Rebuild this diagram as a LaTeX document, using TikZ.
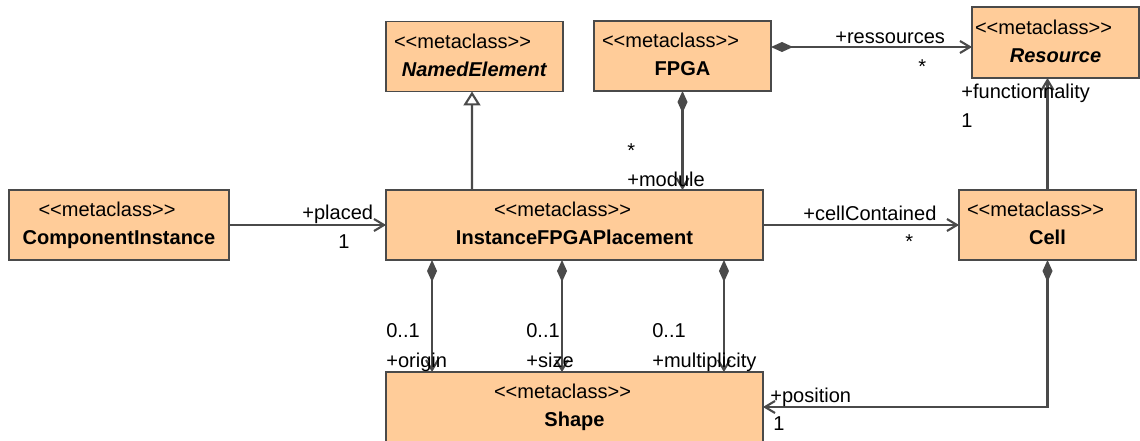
\documentclass[tikz,border=0pt]{standalone}
\usepackage{fontspec}
\newfontfamily\umlfont{Liberation Sans}
\usetikzlibrary{arrows.meta}

\definecolor{umlfill}{HTML}{FFCC99}
\definecolor{umlline}{HTML}{4A4A4A}

% two-line class label: stereotype over class name
\newcommand{\metacls}[1]{\begin{tabular}{@{}c@{}}<<metaclass>>\kern0.48cm\\#1\end{tabular}}

\tikzset{
  cls/.style={draw=umlline,fill=umlfill,line width=1.1pt,inner sep=0pt,outer sep=0pt,minimum height=1.4cm},
  role/.style={anchor=base west,inner sep=0pt},
  comp/.style={draw=umlline,line width=1.2pt,{Diamond[length=0.44cm,width=0.2cm]}-{Straight Barb[length=0.2cm,width=0.24cm]}},
  assoc/.style={draw=umlline,line width=1.2pt,-{Straight Barb[length=0.2cm,width=0.24cm]}},
  inherit/.style={draw=umlline,line width=1.2pt,-{Triangle[length=0.28cm,width=0.34cm,fill=white]}}
}

\begin{document}
\begin{tikzpicture}[x=0.02cm,y=-0.02cm,font=\umlfont\fontsize{11.4}{15.9}\selectfont]
  \useasboundingbox (0,0) rectangle (1140,440);

  % classes
  \node[cls,minimum width=3.54cm] (named) at (474.5,56.5) {\metacls{\textbf{\textit{NamedElement}}}};
  \node[cls,minimum width=3.54cm] (fpga) at (682.5,56) {\metacls{\textbf{FPGA}}};
  \node[cls,minimum width=3.34cm,minimum height=1.42cm] (res) at (1055.5,42.5) {\metacls{\textbf{\textit{Resource}}}};
  \node[cls,minimum width=4.4cm] (cmp) at (119,225) {\metacls{\textbf{ComponentInstance}}};
  \node[cls,minimum width=7.54cm] (ifp) at (574.5,225) {\metacls{\textbf{InstanceFPGAPlacement}}};
  \node[cls,minimum width=3.54cm] (cell) at (1047.5,225) {\metacls{\textbf{Cell}}};
  \node[cls,minimum width=7.54cm] (shp) at (574.5,407) {\metacls{\textbf{Shape}}};

  % relations
  \draw[inherit] ([xshift=1.72cm]ifp.north west) -- ([xshift=1.72cm]named.south west);
  \draw[comp] (fpga.south) -- (fpga.south |- ifp.north);
  \draw[comp] ([yshift=0.18cm]fpga.east) -- ([yshift=0.18cm]fpga.east -| res.west);
  \draw[assoc] (cell.north) -- (cell.north |- res.south);
  \draw[assoc] (cmp.east) -- (ifp.west);
  \draw[assoc] (ifp.east) -- (cell.west);
  \draw[comp] ([xshift=0.92cm]ifp.south west) -- ([xshift=0.92cm]shp.north west);
  \draw[comp] ([xshift=3.52cm]ifp.south west) -- ([xshift=3.52cm]shp.north west);
  \draw[comp] ([xshift=6.76cm]ifp.south west) -- ([xshift=6.76cm]shp.north west);
  \draw[comp] (cell.south) |- (shp.east);

  % role names and multiplicities
  \node[role] (r-res) at (835,43) {+ressources};
  \node[role] (m-res) at (918,73) {*};
  \node[role] (r-fun) at (961,98) {+functionnality};
  \node[role] (m-fun) at (961,127) {1};
  \node[role] (m-mod) at (627,157) {*};
  \node[role] (r-mod) at (627,186) {+module};
  \node[role] (r-pla) at (302,219) {+placed};
  \node[role] (m-pla) at (338,248) {1};
  \node[role] (r-cel) at (803,220) {+cellContained};
  \node[role] (m-cel) at (905,248) {*};
  \node[role] (m-ori) at (386,337) {0..1};
  \node[role] (r-ori) at (386,367) {+origin};
  \node[role] (m-siz) at (526,337) {0..1};
  \node[role] (r-siz) at (526,367) {+size};
  \node[role] (m-mul) at (652,337) {0..1};
  \node[role] (r-mul) at (652,367) {+multiplicity};
  \node[role] (r-pos) at (770,402) {+position};
  \node[role] (m-pos) at (773,430) {1};
\end{tikzpicture}
\end{document}
